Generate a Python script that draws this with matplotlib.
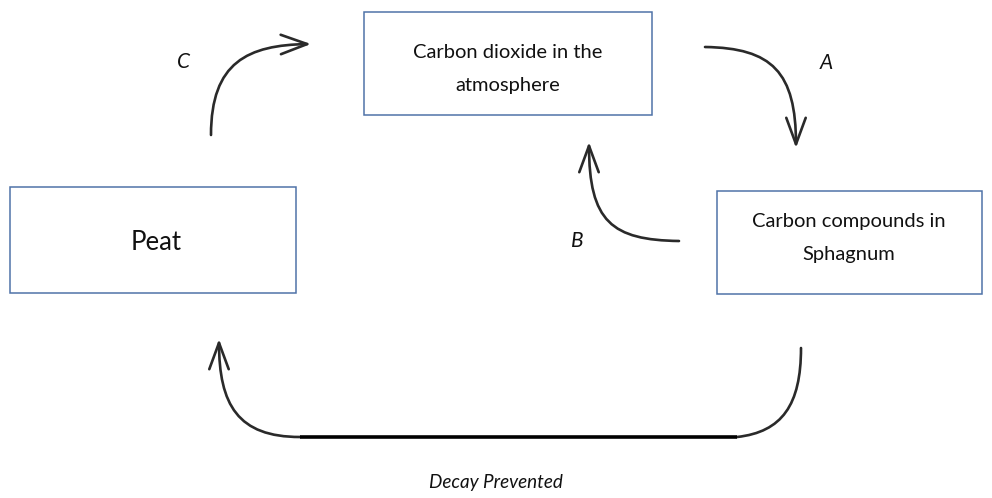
import matplotlib
matplotlib.use("Agg")
import matplotlib.pyplot as plt
from matplotlib.patches import Rectangle, FancyArrowPatch
from matplotlib.path import Path

plt.rcParams['font.family'] = ['Lato', 'DejaVu Sans']

# Boxes: (x, y, w, h) in pixel space, label lines, font size
box_names = ["co2", "peat", "sphagnum"]
box_rects = [(364, 12, 288, 103), (10, 187, 286, 106), (717, 191, 265, 103)]
box_texts = ["Carbon dioxide in the\natmosphere", "Peat", "Carbon compounds in\nSphagnum"]
box_text_centers = [(508, 69), (156, 242), (849, 238)]
box_fontsizes = [14.5, 18.5, 14.5]

# Curved arrows as cubic bezier control points
arrow_paths = [
    [(211, 135), (211, 62), (248, 45), (311, 44)],   # C
    [(705, 47), (772, 48), (796, 72), (796, 148)],   # A
    [(679, 241), (612, 240), (589, 222), (589, 142)],  # B
    [(300, 437), (238, 437), (219, 405), (219, 339)],  # bottom left
]
arrow_heads = [True, True, True, True]
tail_path = [(737, 437), (782, 432), (801, 405), (801, 348)]  # bottom right, no head
base_line = [(300, 437), (737, 437)]

labels = ["C", "A", "B", "Decay Prevented"]
label_pos = [(183, 62), (826, 63), (577, 241), (496, 482)]
label_sizes = [15, 15, 15, 13.6]

fig = plt.figure(figsize=(9.92, 4.98), dpi=100)
ax = fig.add_axes([0, 0, 1, 1])
ax.set_xlim(0, 992)
ax.set_ylim(498, 0)
ax.axis("off")

edge = "#4f73a8"
for (x, y, w, h), txt, (cx, cy), fs in zip(box_rects, box_texts, box_text_centers, box_fontsizes):
    ax.add_patch(Rectangle((x, y), w, h, fill=False, edgecolor=edge, linewidth=1.1))
    ax.text(cx, cy, txt, ha="center", va="center", fontsize=fs,
            color="#111111", linespacing=2.2)

codes = [Path.MOVETO, Path.CURVE4, Path.CURVE4, Path.CURVE4]
for pts, head in zip(arrow_paths, arrow_heads):
    p = FancyArrowPatch(path=Path(pts, codes),
                        arrowstyle="->,head_length=19,head_width=7" if head else "-",
                        color="#2a2a2a", linewidth=1.9, mutation_scale=1,
                        capstyle="round", joinstyle="round")
    ax.add_patch(p)

tp = FancyArrowPatch(path=Path(tail_path, codes), arrowstyle="-",
                     color="#2a2a2a", linewidth=1.9)
ax.add_patch(tp)

ax.plot([base_line[0][0], base_line[1][0]], [base_line[0][1], base_line[1][1]],
        color="black", linewidth=2.6, solid_capstyle="butt")

for t, (x, y), fs in zip(labels, label_pos, label_sizes):
    ax.text(x, y, t, ha="center", va="center", fontsize=fs, style="italic", color="#111111")

fig.savefig("out.png", dpi=100)
